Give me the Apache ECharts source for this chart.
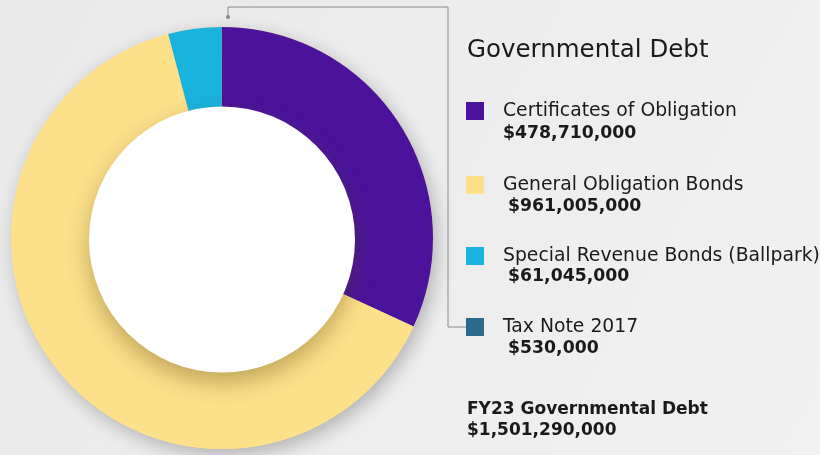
<!DOCTYPE html>
<html><head><meta charset="utf-8">
<script src="https://cdn.jsdelivr.net/npm/echarts@6/dist/echarts.min.js"></script>
<style>html,body{margin:0;padding:0;}#c{width:820px;height:455px;}</style>
</head><body><div id="c"></div>
<script>
var categories = ['Certificates of Obligation', 'General Obligation Bonds', 'Special Revenue Bonds (Ballpark)', 'Tax Note 2017'];
var values = [478710000, 961005000, 61045000, 530000];
var valueLabels = ['$478,710,000', '$961,005,000', '$61,045,000', '$530,000'];
var colors = ['#4b139c', '#fde08a', '#1ab3dd', '#2b6a8c'];
var totalLabel = 'FY23 Governmental Debt';
var totalValue = '$1,501,290,000';
var titleText = 'Governmental Debt';

var chart = echarts.init(document.getElementById('c'));
var FONT = 'DejaVu Sans';
var graphics = [];
graphics.push({type:'text', x:467, y:51, style:{text:titleText, font:'500 24.5px "' + FONT + '"', fill:'#1a1a1a', textVerticalAlign:'middle'}});
var itemY = [111, 185, 256, 327];
var valX = [503, 508, 508, 508];
var valY = [134, 207, 277, 349];
for (var i = 0; i < categories.length; i++) {
  graphics.push({type:'rect', shape:{x:466, y:itemY[i]-9, width:18, height:18}, style:{fill:colors[i]}});
  graphics.push({type:'text', x:503, y:itemY[i], style:{text:categories[i], font:'18.8px "' + FONT + '"', fill:'#1a1a1a', textVerticalAlign:'middle'}});
  graphics.push({type:'text', x:valX[i], y:valY[i], style:{text:valueLabels[i], font:'bold 17.3px "' + FONT + '"', fill:'#1a1a1a', textVerticalAlign:'middle'}});
}
graphics.push({type:'text', x:467, y:410, style:{text:totalLabel, font:'bold 17px "' + FONT + '"', fill:'#1a1a1a', textVerticalAlign:'middle'}});
graphics.push({type:'text', x:467, y:431, style:{text:totalValue, font:'bold 17px "' + FONT + '"', fill:'#1a1a1a', textVerticalAlign:'middle'}});
graphics.push({type:'polyline', shape:{points:[[228,17],[228,7],[448,7],[448,327],[466,327]]}, style:{stroke:'#8a8a8a', lineWidth:1, fill:null}});
graphics.push({type:'circle', shape:{cx:228, cy:17, r:2}, style:{fill:'#8a8a8a'}});

chart.setOption({
  backgroundColor: {type:'linear', x:0, y:0, x2:1, y2:1, colorStops:[{offset:0, color:'#e9e9e9'},{offset:1, color:'#f1f1f1'}]},
  animation: false,
  series: [
    {
      type:'pie', center:[222, 238], radius:[128, 211], silent:true,
      label:{show:false}, labelLine:{show:false},
      itemStyle:{color:'#fde08a', shadowBlur:18, shadowColor:'rgba(0,0,0,0.25)', shadowOffsetX:4, shadowOffsetY:6},
      data:[{name:'shadow', value:1}]
    },
    {
      type:'pie', center:[222, 238], radius:[128, 211], startAngle:90, clockwise:true,
      label:{show:false}, labelLine:{show:false}, silent:true,
      data: categories.map(function(c, i){ return {name:c, value:values[i], itemStyle:{color:colors[i]}}; })
    },
    {
      type:'pie', center:[222, 239.5], radius:[0, 133], silent:true,
      label:{show:false}, labelLine:{show:false},
      itemStyle:{color:'#ffffff', shadowBlur:22, shadowColor:'rgba(80,60,0,0.35)', shadowOffsetY:10},
      data:[{name:'inner', value:1}]
    }
  ],
  graphic: graphics
});
</script></body></html>
